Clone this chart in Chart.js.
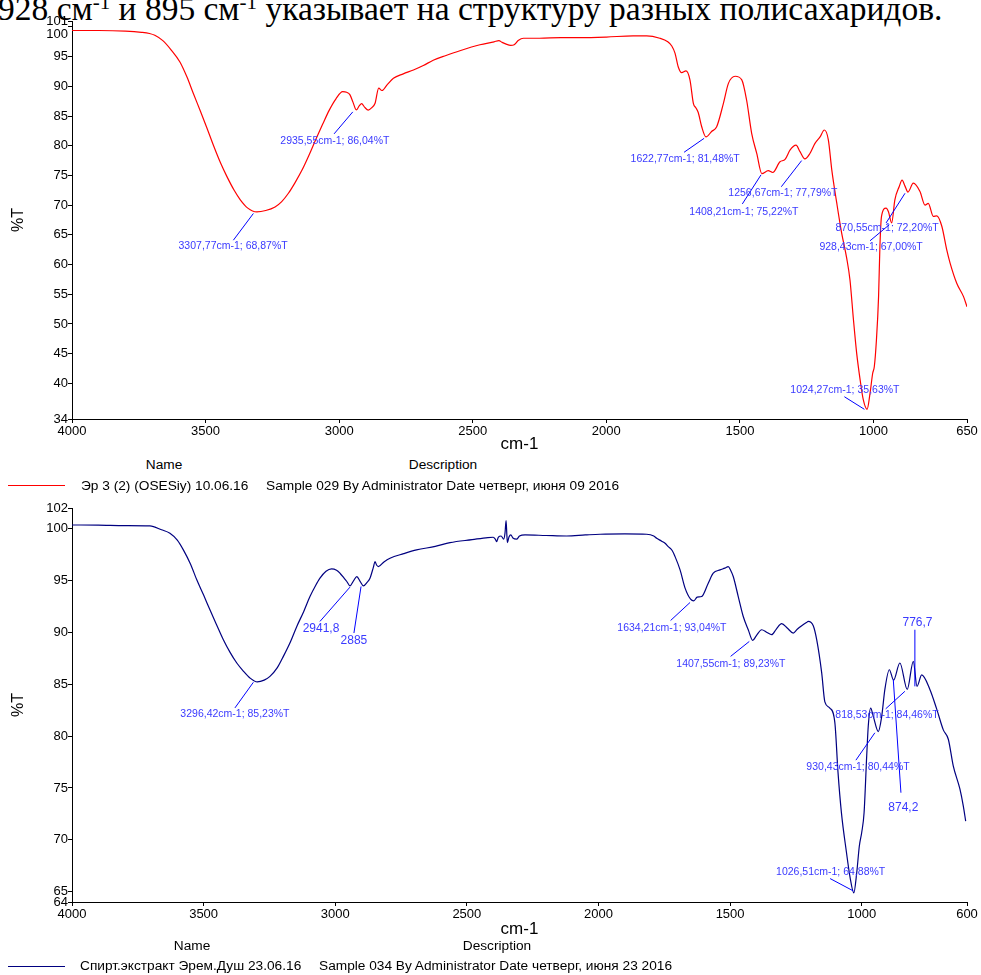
<!DOCTYPE html>
<html>
<head>
<meta charset="utf-8">
<script src="https://cdn.jsdelivr.net/npm/chart.js@4.4.1/dist/chart.umd.min.js"></script>
<style>
  body { margin: 0; background: #fff; width: 981px; height: 975px; overflow: hidden; position: relative; font-family: "Liberation Sans", Arial, sans-serif; }
  .cut-text { position: absolute; left: -2px; top: -8px; font-family: "Liberation Serif", "Times New Roman", serif; font-size: 33.5px; line-height: 33px; white-space: nowrap; color: #000; }
  .cut-text sup { font-size: 21px; vertical-align: 11px; line-height: 0; }
  canvas { position: absolute; left: 0; }
  #topChart { top: 0; }
  #bottomChart { top: 492px; }
  .lbl { position: absolute; font-size: 13.7px; line-height: 14px; white-space: nowrap; color: #000; }
  .ctr { transform: translateX(-50%); }
  .swatch { position: absolute; left: 8px; width: 57px; height: 0; }
</style>
</head>
<body>
<div class="cut-text">928 см<sup>-1</sup> и 895 см<sup>-1</sup> указывает на структуру разных полисахаридов.</div>

<canvas id="topChart" width="981" height="455"></canvas>
<canvas id="bottomChart" width="981" height="448"></canvas>

<!-- подписи под верхним графиком -->
<div class="lbl ctr" style="left:164px; top:458px;">Name</div>
<div class="lbl ctr" style="left:443px; top:458px;">Description</div>
<div class="swatch" style="top:485px; border-top:1px solid #ff0000;"></div>
<div class="lbl" style="left:81px; top:479px;">Эр 3 (2) (OSESiy) 10.06.16</div>
<div class="lbl" style="left:266px; top:479px;">Sample 029 By Administrator Date четверг, июня 09 2016</div>

<!-- подписи под нижним графиком -->
<div class="lbl ctr" style="left:192px; top:939px;">Name</div>
<div class="lbl ctr" style="left:497px; top:939px;">Description</div>
<div class="swatch" style="top:966px; border-top:1px solid #000080;"></div>
<div class="lbl" style="left:80px; top:959px;">Спирт.экстракт Эрем.Душ 23.06.16</div>
<div class="lbl" style="left:319px; top:959px;">Sample 034 By Administrator Date четверг, июня 23 2016</div>

<script>
// Верхний спектр: волновое число (cm-1) и пропускание (%T)
const topWavenumbers = [
  4000, 3900, 3800, 3740, 3710, 3690, 3660, 3630, 3596, 3570,
  3545, 3520, 3495, 3470, 3443, 3420, 3393, 3370, 3342, 3308,
  3275, 3240, 3215, 3190, 3165, 3139, 3113, 3088, 3062, 3037,
  3012, 2987, 2972, 2960, 2948, 2936, 2925, 2916, 2905, 2891,
  2878, 2866, 2852, 2840, 2820, 2797, 2760, 2722, 2685, 2648,
  2600, 2548, 2473, 2420, 2402, 2390, 2375, 2358, 2345, 2330,
  2310, 2250, 2170, 2098, 2000, 1900, 1849, 1800, 1770, 1755,
  1743, 1731, 1718, 1702, 1687, 1674, 1665, 1656, 1643, 1627,
  1606, 1587, 1562, 1543, 1518, 1493, 1475, 1456, 1437, 1418,
  1394, 1377, 1350, 1331, 1312, 1290, 1275, 1257, 1238, 1219,
  1200, 1184, 1169, 1156, 1138, 1120, 1100, 1088, 1075, 1063,
  1050, 1038, 1024, 1013, 1003, 997, 989, 981, 976, 970,
  953, 944, 932, 920, 904, 893, 882, 871, 851, 826,
  807, 795, 776, 763, 744, 726, 713, 688, 663, 650
];
const topTransmittance = [
  99.4, 99.4, 99.3, 99.1, 98.9, 98.6, 97.7, 96.2, 94.1, 91.6,
  88.7, 85.9, 83.0, 80.0, 77.0, 74.8, 72.5, 70.9, 69.5, 68.87,
  69.1, 69.7, 70.6, 72.0, 73.8, 75.9, 78.4, 81.0, 83.6, 86.0,
  87.9, 89.1, 89.0, 88.6, 87.3, 86.04, 86.7, 87.1, 86.5, 86.0,
  86.4, 87.1, 89.7, 89.3, 90.3, 91.35, 92.1, 92.75, 93.5, 94.4,
  95.2, 96.0, 97.0, 97.5, 97.7, 97.4, 97.1, 96.9, 97.0, 97.7,
  98.1, 98.1, 98.2, 98.2, 98.3, 98.5, 98.5, 98.1, 97.5, 96.8,
  95.6, 93.3, 92.3, 92.6, 91.1, 87.1, 86.4, 85.6, 83.2, 81.48,
  82.4, 83.2, 87.1, 90.5, 91.7, 91.1, 87.7, 82.1, 78.7, 75.3,
  75.8, 75.5, 77.3, 77.7, 79.3, 80.1, 79.0, 77.79, 78.7, 80.4,
  81.5, 82.65, 81.0, 75.9, 70.5, 65.5, 61.0, 57.4, 50.7, 45.1,
  40.6, 37.2, 35.63, 38.3, 41.7, 42.8, 47.3, 54.6, 63.0, 68.1,
  69.5, 68.9, 67.0, 70.9, 73.1, 74.2, 73.2, 72.2, 73.7, 72.3,
  70.0, 70.3, 68.1, 68.2, 66.4, 62.5, 60.2, 56.8, 54.6, 52.9
];

// Нижний спектр
const bottomWavenumbers = [
  4000, 3900, 3800, 3704, 3660, 3628, 3600, 3577, 3550, 3526,
  3500, 3476, 3450, 3425, 3400, 3374, 3350, 3324, 3296, 3270,
  3248, 3220, 3197, 3170, 3146, 3120, 3096, 3075, 3058, 3035,
  3014, 2995, 2982, 2965, 2956, 2944, 2930, 2918, 2905, 2893,
  2880, 2868, 2855, 2849, 2843, 2836, 2815, 2792, 2740, 2691,
  2620, 2564, 2480, 2420, 2400, 2392, 2387, 2380, 2370, 2360,
  2355, 2351, 2348, 2346, 2340, 2333, 2325, 2311, 2300, 2279,
  2200, 2121, 2050, 1994, 1900, 1817, 1790, 1779, 1760, 1747,
  1735, 1720, 1709, 1690, 1671, 1650, 1638, 1625, 1608, 1583,
  1564, 1538, 1520, 1507, 1498, 1488, 1469, 1450, 1431, 1414,
  1400, 1380, 1360, 1342, 1325, 1304, 1282, 1260, 1245, 1228,
  1210, 1203, 1184, 1171, 1152, 1140, 1121, 1102, 1090, 1077,
  1058, 1045, 1030, 1019, 1009, 1000, 991, 981, 975, 966,
  956, 937, 924, 912, 895, 879, 855, 827, 804, 790,
  772, 741, 715, 690, 671, 652, 627, 614, 605
];
const bottomTransmittance = [
  100.36, 100.35, 100.3, 100.27, 99.9, 99.56, 98.9, 97.96, 96.6, 95.07,
  93.6, 92.18, 90.7, 89.3, 88.1, 87.05, 86.3, 85.61, 85.23, 85.4,
  85.76, 86.6, 87.69, 89.1, 90.58, 92.0, 93.46, 94.5, 95.23, 95.9,
  96.13, 96.0, 95.71, 95.2, 94.91, 94.49, 95.0, 95.39, 94.9, 94.49,
  94.8, 95.23, 96.3, 96.83, 96.5, 96.35, 96.8, 97.16, 97.6, 97.96,
  98.3, 98.66, 98.95, 99.15, 99.18, 99.0, 98.76, 99.2, 99.3, 99.0,
  99.6, 100.78, 99.4, 98.66, 99.2, 99.4, 99.1, 98.99, 99.3, 99.4,
  99.35, 99.3, 99.4, 99.47, 99.5, 99.47, 99.3, 99.08, 98.8, 98.6,
  98.28, 97.9, 97.31, 96.03, 94.27, 93.2, 93.04, 93.4, 93.46, 94.75,
  95.71, 96.03, 96.2, 96.35, 96.0, 95.39, 93.46, 91.54, 90.26, 89.23,
  89.7, 90.26, 90.0, 89.78, 90.3, 90.84, 90.4, 89.94, 90.3, 90.64,
  90.95, 91.06, 90.64, 89.3, 86.1, 83.3, 82.7, 81.3, 76.5, 72.6,
  68.8, 66.5, 64.88, 66.8, 69.4, 70.7, 72.6, 78.1, 81.0, 82.7,
  81.9, 80.44, 81.9, 84.5, 86.4, 85.4, 87.05, 84.5, 87.2, 84.8,
  85.9, 84.5, 82.6, 80.6, 79.7, 77.1, 74.9, 73.25, 71.8
];

// Деления осей
const topXTicks = [4000, 3500, 3000, 2500, 2000, 1500, 1000, 650];
const topYTicks = [34, 40, 45, 50, 55, 60, 65, 70, 75, 80, 85, 90, 95, 100, 101];
const bottomXTicks = [4000, 3500, 3000, 2500, 2000, 1500, 1000, 600];
const bottomYTicks = [64, 65, 70, 75, 80, 85, 90, 95, 100, 102];

// Подписи пиков: текст, начало линии [cm-1, %T], конец линии, центр текста
const topPeakTexts = [
  '3307,77cm-1; 68,87%T', '2935,55cm-1; 86,04%T', '1622,77cm-1; 81,48%T', '1408,21cm-1; 75,22%T',
  '1256,67cm-1; 77,79%T', '870,55cm-1; 72,20%T', '928,43cm-1; 67,00%T', '1024,27cm-1; 35,63%T'
];
const topPeakFrom = [[3321, 68.6], [2949, 85.7], [1634, 81.25], [1421, 75.1], [1269, 77.5], [882, 72.0], [941, 66.7], [1034, 35.63]];
const topPeakTo = [[3396, 64.1], [3019, 82.0], [1709, 78.9], [1491, 70.2], [1345, 73.1], [953, 67.0], [1013, 64.0], [1109, 37.75]];
const topPeakAt = [[3397, 63.1], [3016, 80.8], [1705, 77.7], [1485, 68.9], [1339, 72.0], [949, 66.1], [1009, 62.9], [1107, 38.9]];

const bottomPeakTexts = [
  '3296,42cm-1; 85,23%T', '2941,8', '2885', '1634,21cm-1; 93,04%T', '1407,55cm-1; 89,23%T',
  '776,7', '818,53cm-1; 84,46%T', '930,43cm-1; 80,44%T', '874,2', '1026,51cm-1; 64,88%T'
];
const bottomPeakFrom = [[3311, 85.19], [2944, 94.37], [2902, 94.43], [1652, 92.89], [1427, 89.13], [798, 84.8], [836, 84.32], [950, 80.32], [880, 85.45], [1032, 65.07]];
const bottomPeakTo = [[3381, 82.72], [3058, 91.06], [2929, 89.94], [1726, 91.15], [1498, 87.69], [798, 90.26], [909, 82.63], [1022, 77.68], [851, 74.54], [1120, 66.26]];
const bottomPeakAt = [[3381, 82.08], [3054, 90.35], [2929, 89.2], [1721, 90.42], [1497, 86.99], [788, 90.9], [904, 81.98], [1014, 77.04], [842, 73.1], [1118, 66.84]];

// Плагин рисования подписей пиков
function makePeakPlugin(texts, from, to, at) {
    return {
        id: 'peakLabels',
        afterDatasetsDraw(chart) {
            const { ctx, scales } = chart;
            const sx = scales.x, sy = scales.y;
            ctx.save();
            texts.forEach((text, i) => {
                ctx.strokeStyle = '#0000ff';
                ctx.lineWidth = 1;
                ctx.beginPath();
                ctx.moveTo(sx.getPixelForValue(from[i][0]), sy.getPixelForValue(from[i][1]));
                ctx.lineTo(sx.getPixelForValue(to[i][0]), sy.getPixelForValue(to[i][1]));
                ctx.stroke();

                const short = text.indexOf('cm') < 0;
                ctx.font = (short ? '12px' : '10.5px') + ' "Liberation Sans", Arial, sans-serif';
                ctx.fillStyle = '#3a3aff';
                ctx.textAlign = 'center';
                ctx.textBaseline = 'middle';
                ctx.fillText(text, sx.getPixelForValue(at[i][0]), sy.getPixelForValue(at[i][1]));
            });
            ctx.restore();
        }
    };
}

// Создание графика спектра
function createSpectrum(canvasId, xs, ys, color, xTicks, yTicks, yLabel, topPad, plugin) {
    const ctx = document.getElementById(canvasId).getContext('2d');
    const canvasHeight = ctx.canvas.height;
    const points = xs.map((w, i) => ({ x: w, y: ys[i] }));
    const axisFont = { family: '"Liberation Sans", Arial, sans-serif', size: 13 };

    return new Chart(ctx, {
        type: 'line',
        data: {
            datasets: [{
                data: points,
                borderColor: color,
                borderWidth: 1.2,
                pointRadius: 0,
                fill: false,
                cubicInterpolationMode: 'monotone'
            }]
        },
        options: {
            responsive: false,
            animation: false,
            events: [],
            layout: { padding: { left: 0, right: 14, top: topPad, bottom: 0 } },
            plugins: { legend: { display: false }, tooltip: { enabled: false } },
            scales: {
                x: {
                    type: 'linear',
                    reverse: true,
                    min: xTicks[xTicks.length - 1],
                    max: xTicks[0],
                    afterBuildTicks: (scale) => { scale.ticks = xTicks.map(v => ({ value: v })); },
                    afterFit: (scale) => { scale.height = canvasHeight - yLabel.bottom; },
                    ticks: { color: '#000', font: axisFont, padding: 1, maxRotation: 0, autoSkip: false,
                             callback: (v) => String(v) },
                    grid: { drawOnChartArea: false, drawTicks: true, tickLength: 4, color: '#000' },
                    border: { color: '#000', width: 1 },
                    title: { display: true, text: 'cm-1', color: '#000', padding: { top: 0, bottom: 0 },
                             font: { family: '"Liberation Sans", Arial, sans-serif', size: 17 } }
                },
                y: {
                    type: 'linear',
                    min: yTicks[0],
                    max: yTicks[yTicks.length - 1],
                    afterBuildTicks: (scale) => { scale.ticks = yTicks.map(v => ({ value: v })); },
                    afterFit: (scale) => { scale.width = 72; },
                    ticks: { color: '#000', font: axisFont, padding: 0, autoSkip: false,
                             callback: (v) => (v === 100 && yLabel.shift100 ? ['', '100'] : String(v)) },
                    grid: { drawOnChartArea: false, drawTicks: true, tickLength: 4, color: '#000' },
                    border: { color: '#000', width: 1 },
                    title: { display: true, text: '%T', color: '#000', padding: { top: 9, bottom: 0 },
                             font: { family: '"Liberation Sans", Arial, sans-serif', size: 16 } }
                }
            }
        },
        plugins: [plugin]
    });
}

const charts = {};
charts.top = createSpectrum('topChart', topWavenumbers, topTransmittance, '#ff0000',
    topXTicks, topYTicks, { bottom: 419, shift100: true }, 21,
    makePeakPlugin(topPeakTexts, topPeakFrom, topPeakTo, topPeakAt));
charts.bottom = createSpectrum('bottomChart', bottomWavenumbers, bottomTransmittance, '#000080',
    bottomXTicks, bottomYTicks, { bottom: 410, shift100: false }, 16,
    makePeakPlugin(bottomPeakTexts, bottomPeakFrom, bottomPeakTo, bottomPeakAt));
</script>
</body>
</html>
